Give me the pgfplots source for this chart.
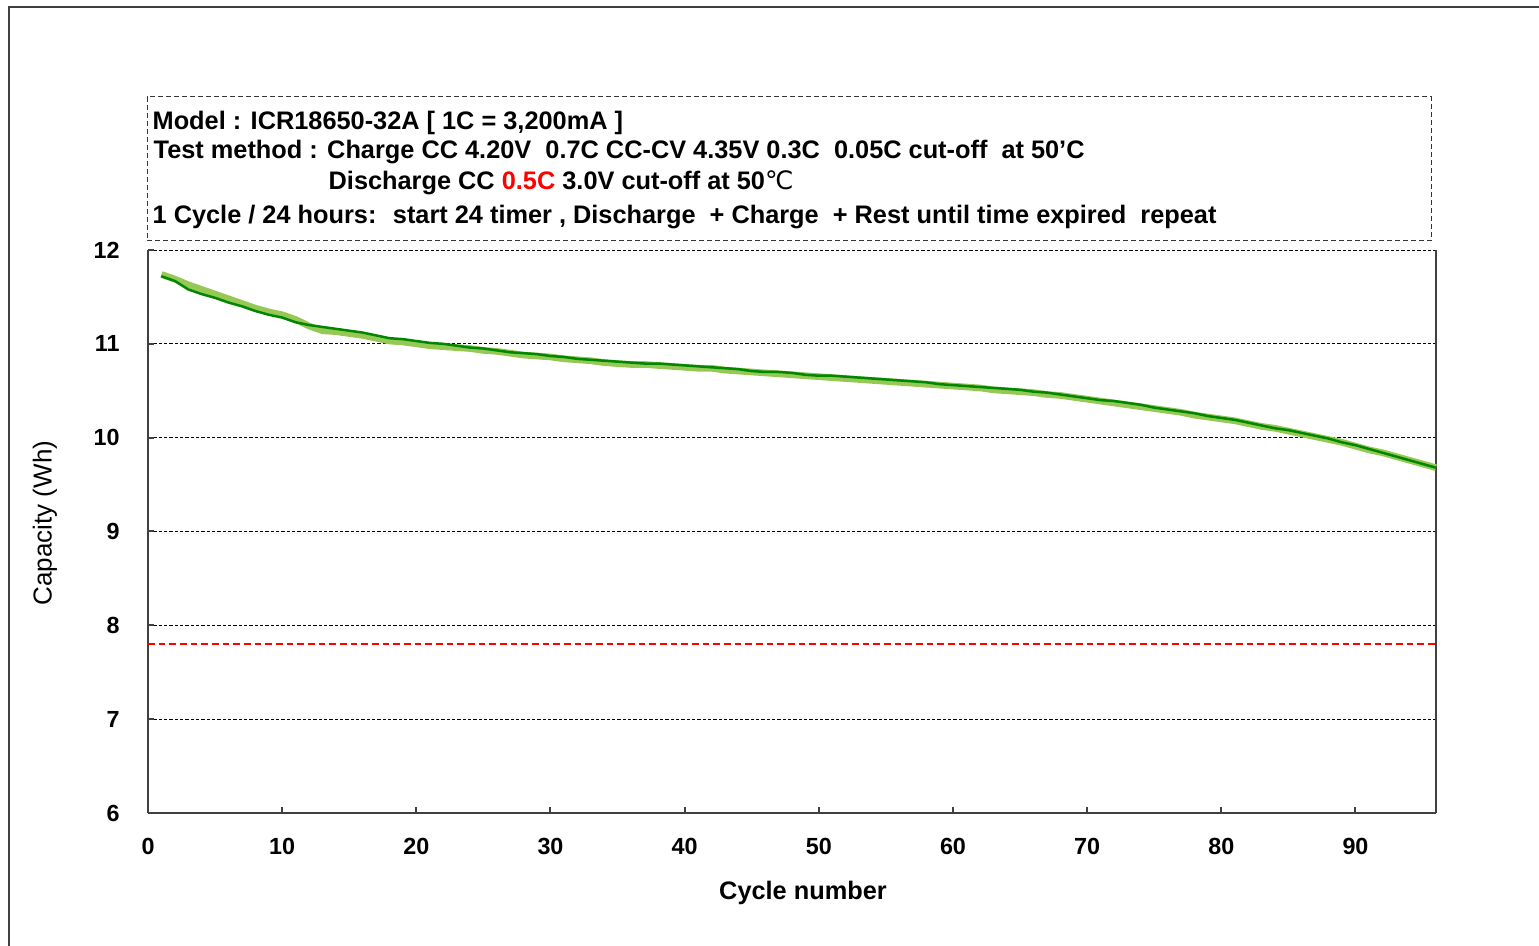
\documentclass[border=0pt]{standalone}
\usepackage{pgfplots}
\usepackage{pgfplotstable}
\pgfplotsset{compat=1.18}
\usepackage{fontspec}
\setmainfont{Liberation Sans}
\newfontfamily\dejavu{DejaVu Sans}
\definecolor{dkgreen}{RGB}{0,135,0}
\definecolor{ltgreen}{RGB}{150,200,86}
\definecolor{axgray}{RGB}{64,64,64}

% cycle, capacity of the two cells (Wh)
\pgfplotstableread{
cyc dark light
1 11.72 11.74
2 11.67 11.69
3 11.58 11.63
4 11.53 11.58
5 11.49 11.53
6 11.44 11.48
7 11.40 11.43
8 11.35 11.38
9 11.31 11.34
10 11.28 11.31
11 11.23 11.26
12 11.20 11.19
13 11.18 11.14
14 11.16 11.13
15 11.14 11.11
16 11.12 11.09
17 11.09 11.06
18 11.06 11.03
19 11.05 11.02
20 11.03 11.00
21 11.01 10.98
22 11.00 10.97
23 10.98 10.96
24 10.96 10.95
25 10.95 10.93
26 10.93 10.92
27 10.91 10.90
28 10.90 10.88
29 10.89 10.87
30 10.87 10.86
31 10.86 10.84
32 10.84 10.83
33 10.83 10.82
34 10.82 10.80
35 10.81 10.79
36 10.80 10.78
37 10.79 10.78
38 10.79 10.77
39 10.78 10.76
40 10.77 10.75
41 10.76 10.74
42 10.75 10.74
43 10.74 10.72
44 10.73 10.71
45 10.71 10.70
46 10.70 10.69
47 10.70 10.68
48 10.69 10.67
49 10.67 10.66
50 10.66 10.65
51 10.66 10.64
52 10.65 10.63
53 10.64 10.62
54 10.63 10.61
55 10.62 10.60
56 10.61 10.59
57 10.60 10.58
58 10.59 10.57
59 10.57 10.56
60 10.56 10.55
61 10.55 10.54
62 10.54 10.53
63 10.53 10.51
64 10.52 10.50
65 10.51 10.49
66 10.49 10.48
67 10.48 10.46
68 10.46 10.45
69 10.44 10.43
70 10.42 10.41
71 10.40 10.39
72 10.39 10.37
73 10.37 10.35
74 10.35 10.33
75 10.32 10.31
76 10.30 10.29
77 10.28 10.27
78 10.26 10.24
79 10.23 10.22
80 10.21 10.20
81 10.19 10.18
82 10.16 10.15
83 10.13 10.12
84 10.10 10.10
85 10.08 10.07
86 10.05 10.04
87 10.02 10.01
88 9.99 9.98
89 9.95 9.95
90 9.92 9.91
91 9.88 9.87
92 9.84 9.84
93 9.80 9.80
94 9.76 9.76
95 9.72 9.72
96 9.68 9.68
}\captable

\begin{document}
\begin{tikzpicture}
\begin{scope}[x=0.3pt,y=-0.3pt]
  \path[use as bounding box] (0,0) rectangle (1539,946);
  \draw[axgray, line width=0.6pt] (9,946) -- (9,7) -- (1539,7);
  \draw[black!80, line width=0.3pt, dash pattern=on 1.5pt off 0.9pt] (147,97) rectangle (1431,241);
  \begin{scope}[every node/.style={anchor=base west, inner sep=0pt, font=\bfseries\fontsize{7.6}{9}\selectfont}]
    \node at (152,130) {Model : ICR18650-32A [ 1C = 3,200mA ]};
    \node at (153,159) {Test method : Charge CC 4.20V~ 0.7C CC-CV 4.35V 0.3C~ 0.05C cut-off~ at 50'C};
    \node at (328,190) {Discharge CC \textcolor{red}{0.5C} 3.0V cut-off at 50{\mdseries\dejavu ℃}};
    \node at (152,224) {1 Cycle / 24 hours:~ start 24 timer , Discharge~ + Charge~ + Rest until time expired~ repeat};
  \end{scope}
\end{scope}

\begin{axis}[at={(44.4pt,-243.9pt)}, anchor=south west, scale only axis,
  width=386.4pt, height=168.9pt,
  xmin=0, xmax=96, ymin=6, ymax=12,
  xtick={0,10,...,90}, ytick={6,7,...,12},
  axis x line*=bottom, axis y line*=box, ytick pos=left,
  ymajorgrids, grid style={black, line width=0.3pt, dash pattern=on 1pt off 0.6pt},
  axis line style={axgray, line width=0.6pt},
  tick style={axgray, line width=0.6pt}, major tick length=1.8pt,
  ticklabel style={font=\bfseries\fontsize{7}{8}\selectfont},
  /pgf/number format/assume math mode=true,
  xticklabel style={yshift=-4pt},
  yticklabel style={xshift=-5pt},
  xlabel={Cycle number},
  every axis x label/.style={at={(axis description cs:0.5,0)}, anchor=center, yshift=-24pt, xshift=3.3pt, font=\bfseries\fontsize{7.6}{9}\selectfont},
  ylabel={Capacity (Wh)},
  every axis y label/.style={at={(axis description cs:0,0.5)}, rotate=90, anchor=center, xshift=2.5pt, yshift=30.9pt, font=\fontsize{7.8}{9}\selectfont},
  clip=false]
\addplot[ltgreen, line width=2pt] table[x=cyc, y=light] {\captable};
\addplot[dkgreen, line width=0.75pt] table[x=cyc, y=dark] {\captable};
\addplot[red, line width=0.6pt, dash pattern=on 2pt off 1.2pt] coordinates {(0,7.8) (96.2,7.8)};
\end{axis}
\end{tikzpicture}
\end{document}
